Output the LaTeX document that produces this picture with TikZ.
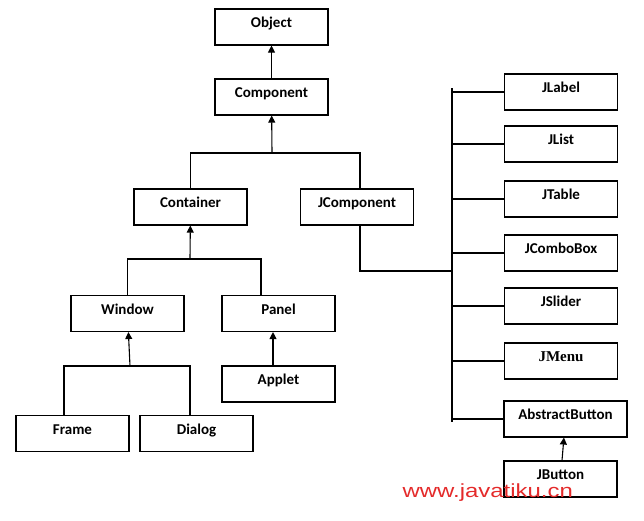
\documentclass[tikz,border=0pt]{standalone}
\usepackage{fontspec}
\setmainfont{Carlito}
\newfontfamily\menufont{Liberation Serif}
\newfontfamily\markfont{Liberation Sans}
\usetikzlibrary{arrows.meta}
\definecolor{markred}{RGB}{228,42,42}
\def\boxW{113pt}
\def\boxH{36pt}

\begin{document}
\begin{tikzpicture}[
    x=1pt, y=-1pt,
    line width=1.1pt,
    arrowtip/.style={
      -{Triangle[length=7pt,width=7pt]}
    },
    classbox/.style={
      draw, line width=1.1pt,
      minimum width=\boxW, minimum height=\boxH,
      inner sep=0pt, text height=10pt, text depth=9pt,
      font=\fontsize{15}{17}\selectfont\bfseries
    }
  ]
    \useasboundingbox (0,0) rectangle (644,520);

    % left tree
    \node[classbox] (Object)     at (271.5, 27)  {Object};
    \node[classbox] (Component)  at (271.5, 97)  {Component};
    \node[classbox] (Container)  at (190.5,207)  {Container};
    \node[classbox] (JComponent) at (357,  207)  {JComponent};
    \node[classbox] (Window)     at (127.5,313.5) {Window};
    \node[classbox] (Panel)      at (278.5,313.5) {Panel};
    \node[classbox] (Applet)     at (278.5,384)  {Applet};
    \node[classbox] (Frame)      at (72.5, 433.5) {Frame};
    \node[classbox] (Dialog)     at (196.5,433.5) {Dialog};

    % swing column
    \node[classbox] (JLabel)     at (561, 92)  {JLabel};
    \node[classbox] (JList)      at (561,144)  {JList};
    \node[classbox] (JTable)     at (561,199)  {JTable};
    \node[classbox] (JComboBox)  at (561,253)  {JComboBox};
    \node[classbox] (JSlider)    at (561,306)  {JSlider};
    \node[classbox,font=\fontsize{15}{17}\selectfont\menufont\bfseries]
                    (JMenu)      at (561,361)  {JMenu};
    \node[classbox,minimum width=123pt]
                    (AbstractButton) at (565.5,419) {AbstractButton};
    \node[classbox] (JButton)    at (560.5,479) {JButton};

    \coordinate (CompBar)  at (272,153);
    \coordinate (ContBar)  at (190,259);
    \coordinate (WinBar)   at (130,366);
    \coordinate (TrunkTop) at (452,88);
    \coordinate (TrunkEnd) at (452,422);
    \coordinate (JCompJoin) at (452,271);

    \draw[arrowtip] (Component) -- (Object);
    \draw[arrowtip] (CompBar) -- (Component);
    \draw (Container.north) |- (CompBar) -| ([xshift=3pt]JComponent.north);

    \draw[arrowtip] (ContBar) -- (Container);
    \draw (Window.north) |- (ContBar) -| ([xshift=-17.5pt]Panel.north);
    \draw[arrowtip] ([xshift=-5.5pt]Applet.north) -- ([xshift=-5.5pt]Panel.south);

    \draw[arrowtip] (WinBar) -- (Window);
    \draw ([xshift=-8.5pt]Frame.north) |- (WinBar) -| ([xshift=-6.5pt]Dialog.north);

    \draw ([xshift=3pt]JComponent.south) |- (JCompJoin);
    \draw (TrunkTop) -- (TrunkEnd);
    \foreach \cls in {JLabel,JList,JTable,JComboBox,JSlider,JMenu,AbstractButton}
      \draw (\cls.west) -- (\cls.west -| TrunkTop);
    \draw[arrowtip] ([xshift=1.5pt]JButton.north) -- (AbstractButton);

    \node[anchor=base west, inner sep=0pt, text=markred,
          font=\fontsize{19}{21}\markfont] (Mark) at (402,497)
          {\scalebox{1.26}[1]{www.javatiku.cn}};
  \end{tikzpicture}
\end{document}
